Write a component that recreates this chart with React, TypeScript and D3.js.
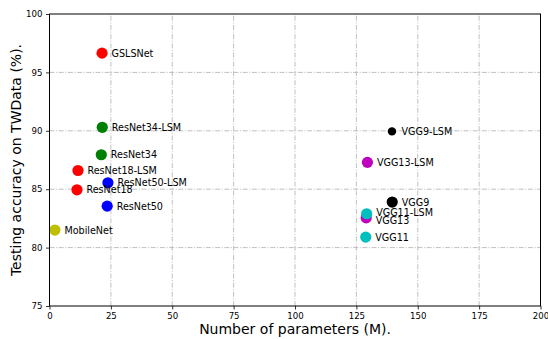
import React, { useRef, useEffect } from "react";
import * as d3 from "d3";

// model names, params (M), accuracy (%), colour
const models = [
  "GSLSNet", "ResNet34-LSM", "ResNet34", "ResNet18-LSM", "ResNet18",
  "ResNet50-LSM", "ResNet50", "MobileNet", "VGG9-LSM", "VGG13-LSM",
  "VGG9", "VGG13", "VGG11-LSM", "VGG11",
];
const params = [21.4, 21.5, 21.1, 11.6, 11.2, 23.8, 23.5, 2.2, 139.5, 129.5, 139.6, 129.0, 129.2, 128.8];
const accuracy = [96.65, 90.3, 87.95, 86.6, 84.95, 85.55, 83.55, 81.5, 89.95, 87.3, 83.9, 82.55, 82.9, 80.9];
const colors = ["#ff0000", "#008000", "#008000", "#ff0000", "#ff0000", "#0000ff", "#0000ff", "#bfbf00",
  "#000000", "#bf00bf", "#000000", "#bf00bf", "#00bfbf", "#00bfbf"];

const xTicks = [0, 25, 50, 75, 100, 125, 150, 175, 200];
const yTicks = [75, 80, 85, 90, 95, 100];

const App = () => {
  const ref = useRef<SVGSVGElement>(null);

  useEffect(() => {
    const width = 548;
    const height = 339;
    const marginTop = 14;
    const marginRight = 7.5;
    const marginBottom = 33;
    const marginLeft = 49.5;
    const font = "DejaVu Sans, sans-serif";

    const x = d3.scaleLinear().domain([0, 200]).range([marginLeft, width - marginRight]);
    const y = d3.scaleLinear().domain([75, 100]).range([height - marginBottom, marginTop]);

    const svg = d3.select(ref.current).attr("width", width).attr("height", height);
    svg.selectAll("*").remove();

    // grid
    const grid = svg.append("g")
      .attr("stroke", "#b0b0b0")
      .attr("stroke-width", 0.8)
      .attr("stroke-dasharray", "5,1.6,1,1.6");
    grid.selectAll("line.gx")
      .data(xTicks.slice(1, -1))
      .enter().append("line")
      .attr("x1", (d) => x(d)).attr("x2", (d) => x(d))
      .attr("y1", y(75)).attr("y2", y(100));
    grid.selectAll("line.gy")
      .data(yTicks.slice(1, -1))
      .enter().append("line")
      .attr("y1", (d) => y(d)).attr("y2", (d) => y(d))
      .attr("x1", x(0)).attr("x2", x(200));

    // points
    const idx = d3.range(models.length);
    svg.append("g").selectAll("circle")
      .data(idx)
      .enter().append("circle")
      .attr("cx", (i) => x(params[i]))
      .attr("cy", (i) => y(accuracy[i]))
      .attr("r", (i) => (models[i] === "VGG9-LSM" ? 4.2 : 5.6))
      .attr("fill", (i) => colors[i]);

    const nudge: Record<string, number> = { "VGG11-LSM": -1.3, "VGG13": 2.3 };
    svg.append("g").selectAll("text")
      .data(idx)
      .enter().append("text")
      .attr("x", (i) => x(params[i]) + 9.5)
      .attr("y", (i) => y(accuracy[i]) + (nudge[models[i]] || 0))
      .attr("dy", "0.36em")
      .attr("font-family", font)
      .attr("font-size", 9.6)
      .attr("fill", "#000")
      .text((i) => models[i]);

    // axes
    const xAxis = svg.append("g")
      .attr("transform", `translate(0,${height - marginBottom})`)
      .call(d3.axisBottom(x).tickValues(xTicks).tickSize(3.5).tickPadding(3.5));
    const yAxis = svg.append("g")
      .attr("transform", `translate(${marginLeft},0)`)
      .call(d3.axisLeft(y).tickValues(yTicks).tickSize(3.5).tickPadding(3.5));
    [xAxis, yAxis].forEach((a) => {
      a.select(".domain").remove();
      a.selectAll("text").attr("font-family", font).attr("font-size", 8.6).attr("fill", "#000");
      a.selectAll("line").attr("stroke", "#000").attr("stroke-width", 0.8);
    });

    // frame
    svg.append("rect")
      .attr("x", x(0)).attr("y", y(100))
      .attr("width", x(200) - x(0)).attr("height", y(75) - y(100))
      .attr("fill", "none").attr("stroke", "#000").attr("stroke-width", 1);

    // axis labels
    svg.append("text")
      .attr("x", (x(0) + x(200)) / 2)
      .attr("y", 334)
      .attr("text-anchor", "middle")
      .attr("font-family", font)
      .attr("font-size", 14)
      .text("Number of parameters (M).");
    svg.append("text")
      .attr("transform", `translate(20.5,${(y(75) + y(100)) / 2}) rotate(-90)`)
      .attr("text-anchor", "middle")
      .attr("font-family", font)
      .attr("font-size", 14)
      .text("Testing accuracy on TWData (%).");
  }, []);

  return <svg ref={ref} style={{ position: "absolute", left: 0, top: 0 }} />;
};

export default App;
